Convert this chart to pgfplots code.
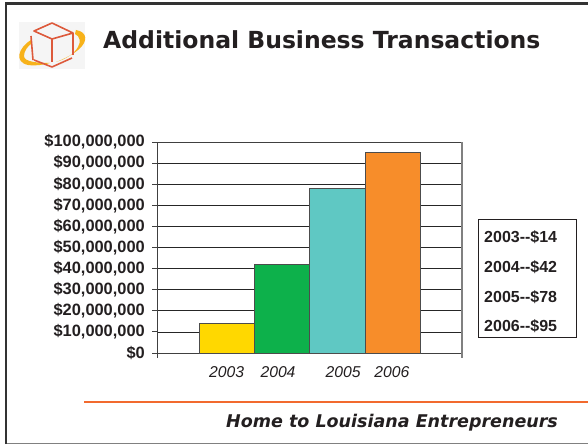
\documentclass[border=0pt]{standalone}
\usepackage{fontspec}
\setmainfont{Liberation Sans}
\newfontfamily\slidefont{DejaVu Sans}
\usepackage{pgfplots}
\pgfplotsset{compat=1.18}
\definecolor{bar03}{HTML}{FFD800}
\definecolor{bar04}{HTML}{0DB14B}
\definecolor{bar05}{HTML}{5FC8C3}
\definecolor{bar06}{HTML}{F78D2A}
\definecolor{ink}{HTML}{231F20}
\definecolor{rulecol}{HTML}{F26A2E}
\definecolor{frame}{HTML}{333333}
\definecolor{cubered}{HTML}{DD5A3C}
\definecolor{orbit}{HTML}{F7B21A}

\begin{document}
\begin{tikzpicture}
\begin{scope}[x=1pt,y=1pt]
\useasboundingbox (0,0) rectangle (588,444);
\fill[white] (0,0) rectangle (588,444);
% slide frame
\draw[gray,line width=1pt] (5.5,0.7) -- (588,0.7);
\draw[frame,line width=2.4pt] (5.7,0) -- (5.7,440.3) -- (588,440.3);

% logo
\fill[black!4] (19,375) rectangle (85,422);
\fill[orbit] (31,404) .. controls (18,396) and (14,382) .. (28,379)
  .. controls (36,378) and (42,379) .. (50,381)
  .. controls (38,381) and (24,382) .. (24,388)
  .. controls (24,393) and (28,398) .. (31,400) -- cycle;
\fill[orbit] (76,414) .. controls (88,412) and (88,402) .. (78,394)
  .. controls (72,389) and (64,385) .. (56,382)
  .. controls (66,385) and (74,390) .. (78,397)
  .. controls (81,402) and (80,408) .. (75,410) -- cycle;
\draw[cubered,line width=1.6pt,line join=round]
  (52,421) -- (73,411) -- (52,405) -- (34,413) -- cycle
  (31,408) -- (33,384) (52,405) -- (52,382) (73,411) -- (73,389)
  (34,384) -- (52,377) -- (72,386);

\node[anchor=west,inner sep=0pt,text=ink] at (103,404.5)
  {\slidefont\fontsize{23.5}{26}\selectfont\bfseries Additional Business Transactions};

% value box
\draw[ink,line width=0.9pt,fill=white] (478,106.5) rectangle (576.5,225);
\foreach \yy/\txt in {207/2003-{}-\$14,177/2004-{}-\$42,147/2005-{}-\$78,118/2006-{}-\$95}
  \node[anchor=west,inner sep=0pt,text=ink,font=\fontsize{16}{17}\selectfont\bfseries] at (484,\yy) {\txt};

% footer
\draw[rulecol,line width=2.4pt] (84,42.3) -- (588,42.3);
\node[anchor=west,inner sep=0pt,text=ink] at (226,21)
  {\slidefont\fontsize{17.5}{18}\selectfont\bfseries\itshape Home to Louisiana Entrepreneurs};

\coordinate (plotcorner) at (157,91);
\end{scope}

\begin{axis}[
  at={(plotcorner)},
  anchor=south west,
  scale only axis,
  width=305pt,
  height=211pt,
  xmin=-1.258, xmax=4.247,
  ymin=0, ymax=100000000,
  scaled y ticks=false,
  ytick={0,10000000,20000000,30000000,40000000,50000000,60000000,70000000,80000000,90000000,100000000},
  yticklabels={{\$0},{\$10,000,000},{\$20,000,000},{\$30,000,000},{\$40,000,000},{\$50,000,000},{\$60,000,000},{\$70,000,000},{\$80,000,000},{\$90,000,000},{\$100,000,000}},
  xtick={0,0.926,2.1,2.98},
  xticklabels={2003,2004,2005,2006},
  major tick length=5pt,
  x tick style={draw=none},
  tick align=outside,
  y tick style={black!75,line width=0.8pt},
  ymajorgrids,
  grid style={black!85,line width=0.7pt},
  axis line style={black!75,line width=0.8pt},
  xtick pos=bottom,
  ytick pos=left,
  yticklabel style={font=\fontsize{16.4}{16}\selectfont\bfseries,text=ink,inner sep=0pt,xshift=-7pt},
  xticklabel style={font=\fontsize{15.7}{16}\selectfont\itshape,text=ink,yshift=-5pt},
  ybar,
  bar width=55.4pt,
  bar shift=0pt,
  clip=false,
]
\addplot[fill=bar03,draw=black!70,line width=0.8pt] coordinates {(0,14000000)};
\addplot[fill=bar04,draw=black!70,line width=0.8pt] coordinates {(1,42000000)};
\addplot[fill=bar05,draw=black!70,line width=0.8pt] coordinates {(2,78000000)};
\addplot[fill=bar06,draw=black!70,line width=0.8pt] coordinates {(3,95000000)};
\draw[gray,line width=1.3pt] (rel axis cs:1,0) -- (rel axis cs:1,1) -- ++(0pt,0pt);
\draw[gray,line width=1.3pt] (rel axis cs:1,0) -- ++(0pt,-5pt);
\draw[black!75,line width=0.8pt] (rel axis cs:0,0) -- ++(0pt,-5pt);
\end{axis}
\end{tikzpicture}
\end{document}
